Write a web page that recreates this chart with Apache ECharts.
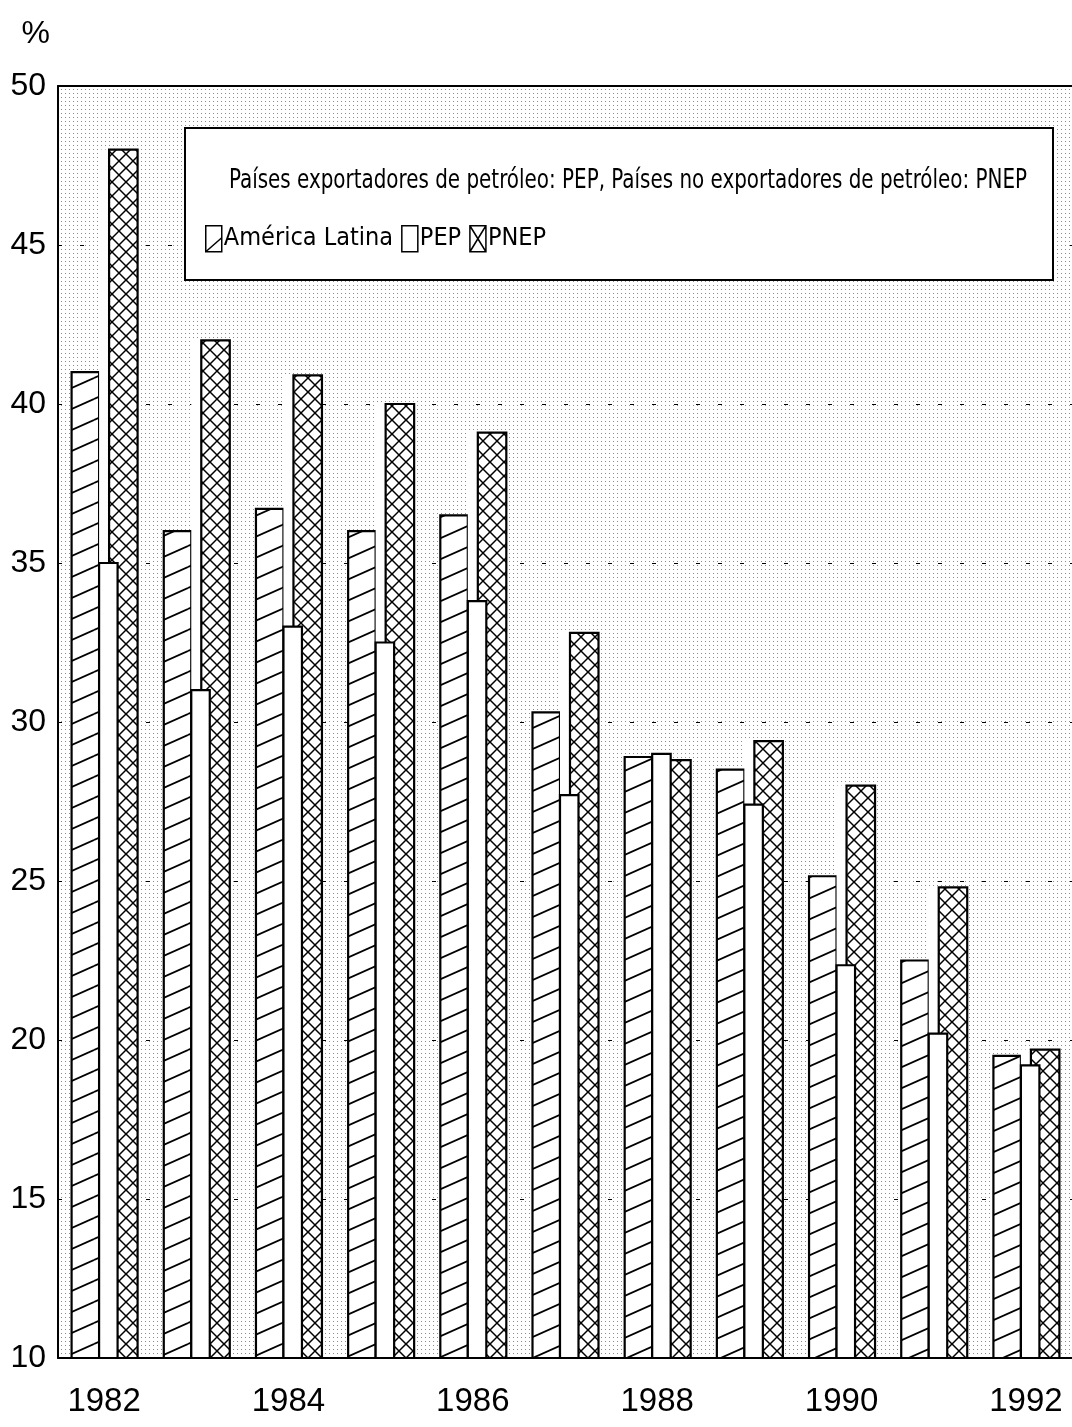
<!DOCTYPE html>
<html>
<head>
<meta charset="utf-8">
<script src="https://cdn.jsdelivr.net/npm/echarts@6/dist/echarts.min.js"></script>
<style>
  html, body { margin: 0; padding: 0; background: #fff; }
  #chart { width: 1072px; height: 1427px; }
</style>
</head>
<body>
<div id="chart"></div>
<script>
// Años del eje horizontal
const years = ['1982', '1983', '1984', '1985', '1986', '1987', '1988', '1989', '1990', '1991', '1992'];
// Porcentajes por grupo de países
const americaLatina = [41.0, 36.0, 36.7, 36.0, 36.5, 30.3, 28.9, 28.5, 25.15, 22.5, 19.5];
const pep = [35.0, 31.0, 33.0, 32.5, 33.8, 27.7, 29.0, 27.4, 22.35, 20.2, 19.2];
const pnep = [48.0, 42.0, 40.9, 40.0, 39.1, 32.8, 28.8, 29.4, 28.0, 24.8, 19.7];
// Escala vertical
const yMin = 10, yMax = 50, yStep = 5;
const seriesNames = ['América Latina', 'PEP', 'PNEP'];
const legendTitle = 'Países exportadores de petróleo: PEP, Países no exportadores de petróleo: PNEP';

const NARROW = '"DejaVu Sans Condensed", "Liberation Sans", sans-serif';
const SANS = '"Liberation Sans", Arial, sans-serif';

// Small repeating tiles used as fills
function tile(w, h, draw) {
  const c = document.createElement('canvas');
  c.width = w; c.height = h;
  const g = c.getContext('2d');
  draw(g, w, h);
  return { image: c, repeat: 'repeat' };
}
const dotFill = tile(4, 4, function (g, w, h) {
  g.fillStyle = '#fff'; g.fillRect(0, 0, w, h);
  g.fillStyle = '#8c8c8c';
  g.fillRect(1, 1, 1, 1);
});
const hatchFill = tile(47, 21, function (g, w, h) {
  g.fillStyle = '#fff'; g.fillRect(0, 0, w, h);
  g.strokeStyle = '#000'; g.lineWidth = 1.8;
  [[0, 0], [-w, 0], [w, 0], [0, -h], [0, h]].forEach(function (d) {
    g.beginPath(); g.moveTo(d[0], h + d[1]); g.lineTo(w + d[0], d[1]); g.stroke();
  });
});
const crossFill = tile(14, 14, function (g, w, h) {
  g.fillStyle = '#fff'; g.fillRect(0, 0, w, h);
  g.strokeStyle = '#000'; g.lineWidth = 1.5;
  for (let dx = -w; dx <= w; dx += w) {
    for (let dy = -h; dy <= h; dy += h) {
      g.beginPath(); g.moveTo(dx, dy); g.lineTo(dx + w, dy + h); g.stroke();
      g.beginPath(); g.moveTo(dx + w, dy); g.lineTo(dx, dy + h); g.stroke();
    }
  }
});

// Bar drawn at a pixel offset from the category centre
function barItem(offL, offR, fill, strip) {
  return function (params, api) {
    const idx = api.value(0);
    const top = api.coord([idx, api.value(1)]);
    const base = api.coord([idx, yMin]);
    const children = [];
    if (strip) {
      children.push({
        type: 'rect',
        shape: { x: top[0] + strip[0], y: top[1], width: strip[1] - strip[0], height: base[1] - top[1] },
        style: { fill: '#fff' }
      });
    }
    children.push({
      type: 'rect',
      shape: { x: top[0] + offL, y: top[1], width: offR - offL, height: base[1] - top[1] },
      style: { fill: fill, stroke: '#000', lineWidth: 2.2 }
    });
    return { type: 'group', children: children };
  };
}
function toData(arr) { return arr.map(function (v, i) { return [i, v]; }); }

const chart = echarts.init(document.getElementById('chart'), null, { renderer: 'canvas' });
chart.setOption({
  animation: false,
  backgroundColor: '#fff',
  grid: {
    show: true, left: 58, top: 86, width: 1016, height: 1272,
    backgroundColor: dotFill, borderWidth: 0
  },
  xAxis: [
    {
      type: 'category', data: years, boundaryGap: true, position: 'bottom',
      axisLine: { lineStyle: { color: '#000', width: 2 } },
      axisTick: { show: false },
      axisLabel: { interval: 1, color: '#000', fontSize: 33, fontFamily: SANS, margin: 27 }
    },
    {
      // top frame line of the plot
      type: 'category', data: years, position: 'top',
      axisLine: { lineStyle: { color: '#000', width: 2 } },
      axisTick: { show: false }, axisLabel: { show: false }
    }
  ],
  yAxis: {
    type: 'value', min: yMin, max: yMax, interval: yStep,
    name: '%', nameLocation: 'end', nameGap: 52,
    nameTextStyle: { color: '#000', fontSize: 32, fontFamily: SANS, align: 'right', verticalAlign: 'middle', padding: [0, 8, 0, 0] },
    axisLine: { show: true, lineStyle: { color: '#000', width: 2 } },
    axisTick: { show: false },
    axisLabel: { color: '#000', fontSize: 32, fontFamily: SANS, margin: 12 },
    splitLine: { show: true, lineStyle: { color: '#000', width: 1, type: [4, 18] } }
  },
  legend: {
    left: 200, top: 220, orient: 'horizontal', selectedMode: false,
    itemWidth: 16, itemHeight: 26, itemGap: 8, z: 20,
    textStyle: { color: '#000', fontSize: 25, fontFamily: NARROW, padding: [0, 0, 0, -3] },
    itemStyle: { color: '#fff', borderColor: '#000', borderWidth: 1.5 },
    data: [
      { name: seriesNames[0], icon: 'path://M0,0H16V26H0Z M0,26L16,12' },
      { name: seriesNames[1], icon: 'path://M0,0H16V26H0Z' },
      { name: seriesNames[2], icon: 'path://M0,0H16V26H0Z M0,0L16,26 M16,0L0,26' }
    ]
  },
  graphic: [
    { type: 'rect', z: 10, shape: { x: 185, y: 128, width: 868, height: 152 },
      style: { fill: '#fff', stroke: '#000', lineWidth: 2 } },
    { type: 'text', z: 11, x: 628, y: 181, scaleX: 0.82,
      style: { text: legendTitle, fill: '#000', font: '27px ' + NARROW, align: 'center', verticalAlign: 'middle' } }
  ],
  series: [
    { name: seriesNames[0], type: 'custom', data: toData(americaLatina), encode: { x: 0, y: 1 },
      itemStyle: { color: '#fff' }, renderItem: barItem(-32.5, -5, hatchFill) },
    { name: seriesNames[2], type: 'custom', data: toData(pnep), encode: { x: 0, y: 1 },
      itemStyle: { color: '#fff' }, renderItem: barItem(5, 33.5, crossFill, [-5, 5]) },
    { name: seriesNames[1], type: 'custom', data: toData(pep), encode: { x: 0, y: 1 },
      itemStyle: { color: '#fff' }, renderItem: barItem(-5, 13.5, '#fff') }
  ]
});
</script>
</body>
</html>
